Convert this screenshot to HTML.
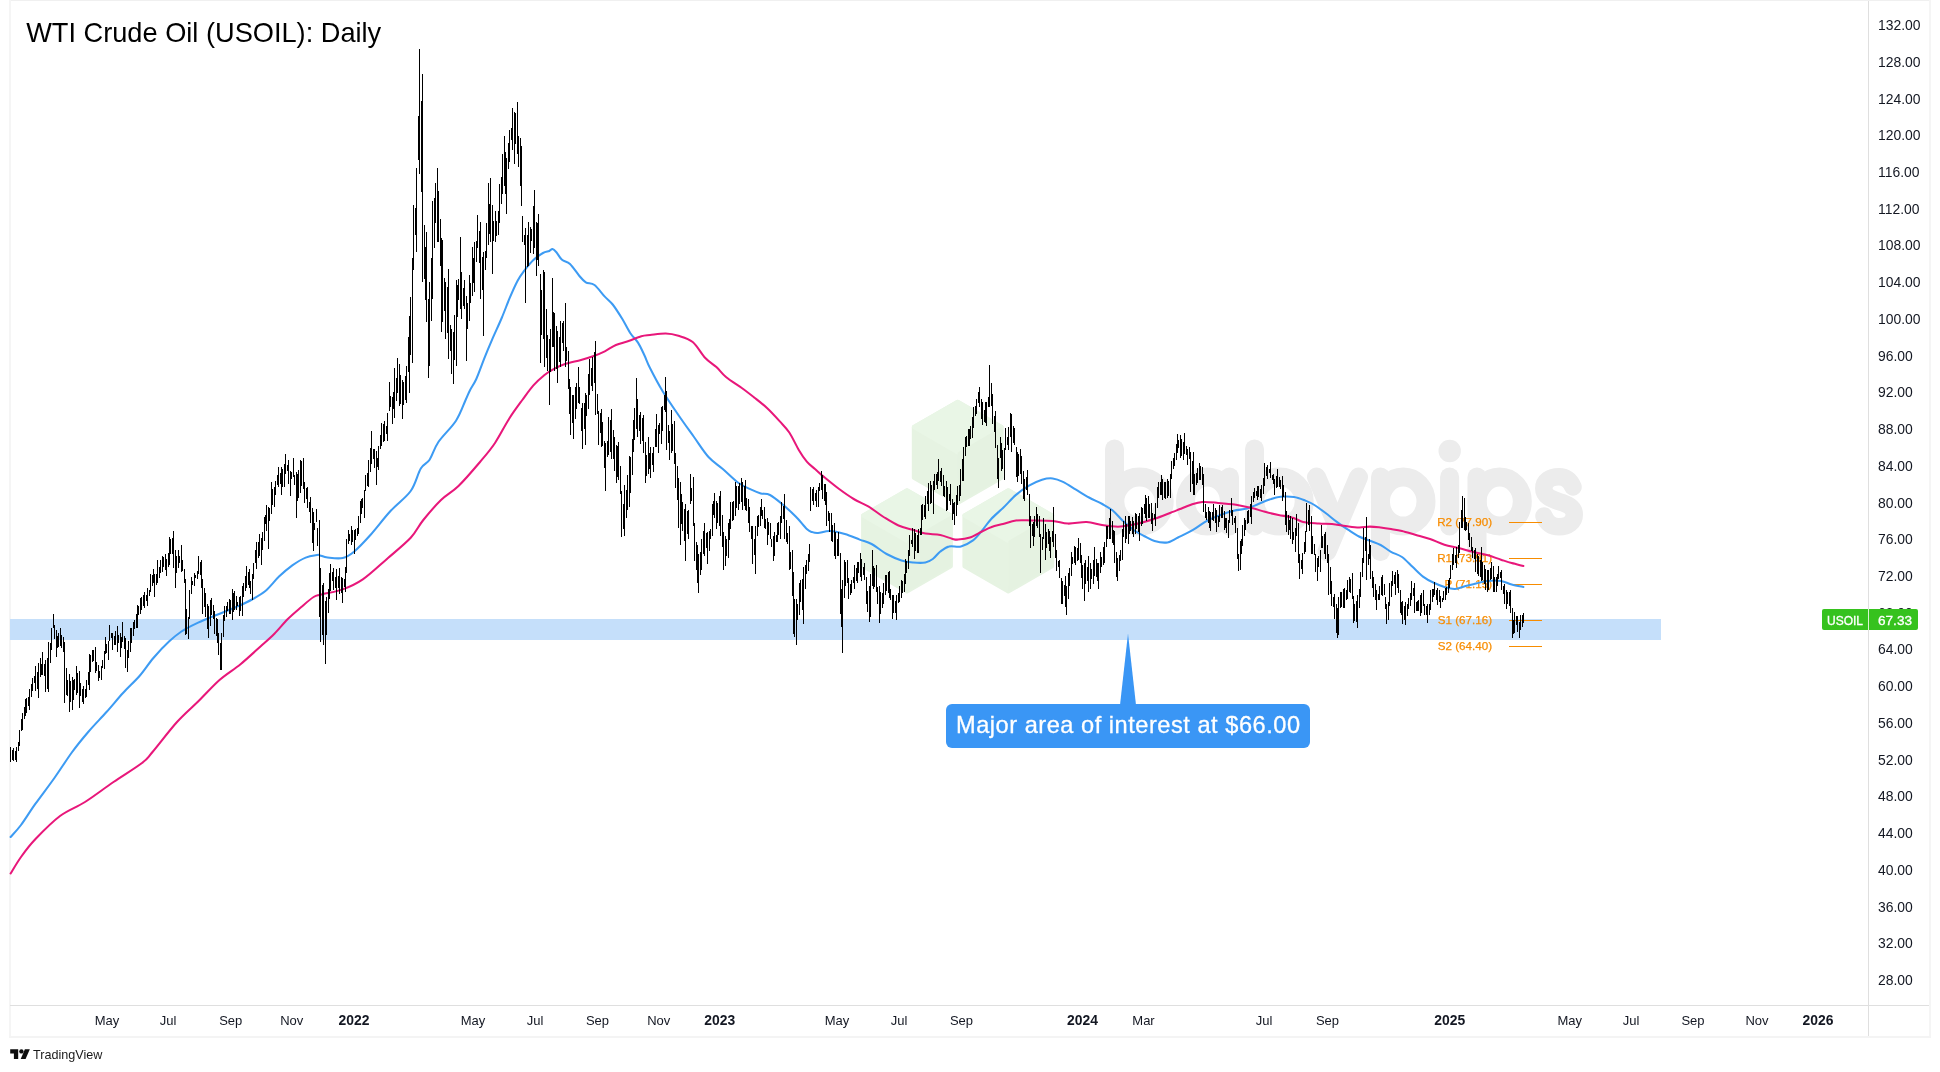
<!DOCTYPE html>
<html><head><meta charset="utf-8"><title>WTI Crude Oil (USOIL): Daily</title>
<style>
html,body{margin:0;padding:0;background:#fff;}
body{width:1940px;height:1072px;overflow:hidden;position:relative;font-family:"Liberation Sans",sans-serif;}
svg{position:absolute;left:0;top:0;display:block;will-change:transform}
text{font-family:"Liberation Sans",sans-serif}
</style></head><body>
<svg width="1940" height="1072" viewBox="0 0 1940 1072">

<g shape-rendering="crispEdges">
<rect x="9" y="0" width="1921" height="1" fill="#f0f0f0"/>
<rect x="9" y="0" width="2" height="1037" fill="#f5f5f5"/>
<rect x="1929" y="0" width="2" height="1037" fill="#f5f5f5"/>
<rect x="9" y="1036" width="1922" height="2" fill="#f4f4f4"/>
<rect x="1868" y="1" width="1" height="1035" fill="#dfdfdf"/>
<rect x="10" y="1005" width="1919" height="1" fill="#dfdfdf"/>
</g>
<g id="wm">
<polygon points="957.7,401.7 1001.6,427.0 1001.6,477.8 957.7,503.1 913.8,477.8 913.8,427.0" fill="#e6f3e2" stroke="#e6f3e2" stroke-width="4" stroke-linejoin="round"/><polygon points="957.7,401.7 1001.6,427.0 957.7,452.4 913.8,427.0" fill="#e9f6e6" stroke="#e9f6e6" stroke-width="4" stroke-linejoin="round"/><polygon points="1001.6,427.0 1001.6,477.8 957.7,503.1 957.7,452.4" fill="#e5f2e1"/>
<polygon points="907.0,490.2 950.9,515.5 950.9,566.2 907.0,591.6 863.1,566.2 863.1,515.5" fill="#e6f3e2" stroke="#e6f3e2" stroke-width="4" stroke-linejoin="round"/><polygon points="907.0,490.2 950.9,515.5 907.0,540.9 863.1,515.5" fill="#e9f6e6" stroke="#e9f6e6" stroke-width="4" stroke-linejoin="round"/><polygon points="950.9,515.5 950.9,566.2 907.0,591.6 907.0,540.9" fill="#e5f2e1"/>
<polygon points="1008.3,490.2 1052.2,515.5 1052.2,566.2 1008.3,591.6 964.4,566.2 964.4,515.5" fill="#e6f3e2" stroke="#e6f3e2" stroke-width="4" stroke-linejoin="round"/><polygon points="1008.3,490.2 1052.2,515.5 1008.3,540.9 964.4,515.5" fill="#e9f6e6" stroke="#e9f6e6" stroke-width="4" stroke-linejoin="round"/><polygon points="1052.2,515.5 1052.2,566.2 1008.3,591.6 1008.3,540.9" fill="#e5f2e1"/>
<g fill="none" stroke="#ececec" stroke-width="19" stroke-linecap="round" stroke-linejoin="round"><path d="M1114.5 449V526"/><ellipse cx="1139.5" cy="501.6" rx="24.7" ry="24.5"/><ellipse cx="1207.5" cy="501.6" rx="22" ry="24.5"/><path d="M1229.5 477V526"/><path d="M1254.5 449V526"/><ellipse cx="1279.5" cy="501.6" rx="24.7" ry="24.5"/><path d="M1316.5 477L1337.5 526.6"/><path d="M1358.5 477L1327 551.5"/><path d="M1380.5 477V551.5"/><ellipse cx="1403.2" cy="501.6" rx="22.8" ry="24.5"/><path d="M1449.6 477V526"/><path d="M1477 477V551.5"/><ellipse cx="1499.7" cy="501.6" rx="22.6" ry="24.5"/></g><g fill="none" stroke="#ececec" stroke-width="17.5" stroke-linecap="round" stroke-linejoin="round"><path d="M1573 487C1570 480 1565 476.8 1559 476.8C1550 476.8 1543.8 481 1543.8 488.5C1543.8 496 1551 499 1559 501.6C1567 504 1574.3 507 1574.3 514.5C1574.3 522 1568 526.8 1559 526.8C1552 526.8 1546.5 523 1544 516"/></g><circle cx="1449.7" cy="451" r="11.2" fill="#ececec"/>
</g>
<rect x="10" y="619" width="1651" height="21" fill="#c5dffa" shape-rendering="crispEdges"/>
<text x="1492" y="525.8" text-anchor="end" font-size="11.6" fill="#f78c00" stroke="#f78c00" stroke-width="0.25">R2 (77.90)</text>
<rect x="1509" y="522" width="33" height="1" fill="#f78c00" shape-rendering="crispEdges"/>
<text x="1492" y="562.4" text-anchor="end" font-size="11.6" fill="#f78c00" stroke="#f78c00" stroke-width="0.25">R1 (73.91)</text>
<rect x="1509" y="558" width="33" height="1" fill="#f78c00" shape-rendering="crispEdges"/>
<text x="1492" y="587.8" text-anchor="end" font-size="11.6" fill="#f78c00" stroke="#f78c00" stroke-width="0.25">P (71.15)</text>
<rect x="1509" y="584" width="33" height="1" fill="#f78c00" shape-rendering="crispEdges"/>
<text x="1492" y="624.4" text-anchor="end" font-size="11.6" fill="#f78c00" stroke="#f78c00" stroke-width="0.25">S1 (67.16)</text>
<rect x="1509" y="620" width="33" height="1" fill="#f78c00" shape-rendering="crispEdges"/>
<text x="1492" y="649.8" text-anchor="end" font-size="11.6" fill="#f78c00" stroke="#f78c00" stroke-width="0.25">S2 (64.40)</text>
<rect x="1509" y="646" width="33" height="1" fill="#f78c00" shape-rendering="crispEdges"/>
<path d="M10.6 837.0C12.3 835.0 16.9 830.5 21.0 825.0C25.1 819.5 29.9 811.5 35.5 803.7C41.1 795.9 48.4 786.5 54.4 778.0C60.4 769.5 66.2 760.2 71.8 752.5C77.4 744.8 82.4 738.8 88.2 732.0C94.0 725.2 100.9 718.3 106.7 711.8C112.5 705.3 117.5 699.0 123.0 693.0C128.5 687.0 134.4 681.8 139.5 676.0C144.6 670.2 148.5 663.7 153.4 658.0C158.3 652.3 164.3 646.0 169.0 641.6C173.7 637.2 176.9 634.5 181.4 631.5C185.9 628.5 190.6 626.2 196.0 623.6C201.4 621.0 207.3 618.8 214.0 616.0C220.7 613.2 230.0 609.8 236.3 607.0C242.6 604.2 247.2 602.2 252.0 599.5C256.9 596.8 260.9 594.8 265.4 591.0C269.9 587.2 274.5 580.9 279.0 576.6C283.5 572.3 287.9 568.6 292.3 565.4C296.8 562.2 301.6 559.3 305.7 557.6C309.8 555.9 314.6 555.4 317.0 555.0C319.4 554.6 318.2 555.0 320.0 555.4C321.8 555.8 323.8 557.1 327.6 557.5C331.4 557.9 338.3 559.0 342.7 558.0C347.1 557.0 349.4 555.5 354.0 551.7C358.6 547.9 364.3 541.8 370.4 535.0C376.5 528.2 383.8 518.3 390.5 511.0C397.2 503.7 405.6 498.1 410.7 491.0C415.8 483.9 417.6 473.7 420.8 468.5C424.0 463.3 426.7 464.1 429.6 459.7C432.5 455.3 434.0 448.5 438.4 442.0C442.8 435.5 451.5 427.7 456.0 420.7C460.5 413.7 463.3 405.1 465.6 400.0C467.9 394.9 468.2 393.7 470.0 390.2C471.8 386.7 473.9 384.3 476.3 379.0C478.7 373.7 481.7 365.0 484.3 358.4C486.9 351.8 489.3 346.1 492.2 339.4C495.1 332.7 498.8 324.9 501.7 318.0C504.6 311.1 507.0 304.4 509.6 298.2C512.2 292.0 515.2 285.2 517.6 280.7C520.0 276.2 521.3 274.6 523.9 271.2C526.5 267.8 530.2 263.0 533.4 260.0C536.6 257.0 540.4 254.5 543.0 253.0C545.6 251.5 547.7 251.7 549.3 251.0C550.9 250.3 551.3 248.8 552.5 249.0C553.7 249.2 554.8 250.4 556.4 252.2C558.0 254.0 559.7 257.8 562.0 259.8C564.3 261.8 567.1 261.3 570.0 264.0C572.9 266.7 576.8 272.9 579.4 276.0C582.0 279.1 583.3 280.8 585.8 282.3C588.3 283.8 591.3 282.6 594.5 285.0C597.7 287.4 601.8 293.4 604.8 296.6C607.8 299.9 609.8 300.8 612.7 304.5C615.6 308.2 619.3 314.1 622.2 318.8C625.1 323.6 627.6 329.0 630.2 333.0C632.8 337.0 635.6 338.9 638.0 342.6C640.4 346.3 642.4 351.1 644.4 355.3C646.4 359.5 647.0 362.1 650.0 368.0C653.0 373.9 657.8 383.2 662.5 391.0C667.2 398.8 673.1 407.3 678.4 415.0C683.6 422.7 689.0 430.0 694.0 437.0C699.0 444.0 703.7 451.7 708.5 457.0C713.3 462.3 717.8 464.7 722.8 469.0C727.8 473.3 733.9 479.6 738.6 483.0C743.4 486.4 747.6 487.9 751.3 489.6C755.0 491.3 757.7 492.5 760.8 493.4C763.9 494.3 766.3 493.1 770.0 495.0C773.7 496.9 778.7 501.2 783.0 504.8C787.3 508.4 791.7 512.5 795.7 516.5C799.7 520.5 804.1 526.4 806.8 529.0C809.5 531.6 810.1 531.3 812.0 532.0C813.9 532.7 815.0 533.2 818.0 533.0C821.0 532.8 825.5 530.8 830.0 531.0C834.5 531.2 839.8 532.6 844.8 534.0C849.8 535.4 855.2 537.9 859.7 539.6C864.2 541.3 867.1 541.6 871.6 544.0C876.1 546.4 881.6 551.3 886.6 554.0C891.6 556.7 897.0 559.0 901.5 560.4C906.0 561.8 909.4 562.1 913.4 562.5C917.4 562.9 922.2 563.1 925.4 562.5C928.6 561.9 930.3 560.8 932.8 559.0C935.3 557.2 937.6 553.6 940.3 551.5C943.0 549.4 945.5 547.2 949.0 546.4C952.5 545.5 957.0 547.4 961.0 546.4C965.0 545.4 969.5 543.0 973.0 540.4C976.5 537.8 979.0 534.1 982.0 530.6C985.0 527.1 987.5 523.0 991.0 519.2C994.5 515.4 998.8 512.0 1003.0 508.0C1007.2 503.9 1011.7 498.6 1016.0 494.9C1020.3 491.2 1024.7 488.2 1029.0 485.7C1033.3 483.2 1038.0 480.9 1042.0 479.7C1046.0 478.5 1049.2 478.0 1052.7 478.4C1056.2 478.8 1059.1 479.9 1063.0 481.8C1066.9 483.7 1071.7 487.1 1076.0 489.7C1080.3 492.3 1084.6 495.1 1089.0 497.5C1093.4 499.9 1098.3 501.8 1102.3 504.0C1106.2 506.2 1109.2 507.7 1112.7 510.5C1116.2 513.3 1119.5 517.8 1123.0 521.0C1126.5 524.2 1130.1 527.5 1133.6 530.0C1137.1 532.5 1140.5 534.2 1144.0 536.0C1147.5 537.8 1150.6 539.9 1154.5 541.0C1158.4 542.1 1163.6 543.0 1167.5 542.4C1171.4 541.8 1173.7 539.6 1178.0 537.5C1182.3 535.4 1188.6 532.5 1193.4 529.7C1198.2 526.9 1202.4 523.2 1206.9 520.8C1211.4 518.3 1215.8 516.7 1220.3 515.0C1224.8 513.3 1229.2 511.8 1233.7 510.7C1238.2 509.6 1242.9 509.6 1247.0 508.5C1251.1 507.4 1254.6 505.5 1258.4 504.0C1262.2 502.5 1265.9 500.7 1269.6 499.5C1273.3 498.3 1276.7 497.2 1280.8 496.8C1284.9 496.4 1289.9 496.4 1294.0 497.0C1298.1 497.6 1302.0 499.3 1305.4 500.6C1308.8 501.9 1311.0 502.9 1314.4 505.0C1317.8 507.1 1321.9 510.2 1325.6 513.0C1329.3 515.8 1333.1 519.1 1336.8 521.9C1340.5 524.7 1344.3 527.3 1348.0 529.7C1351.7 532.1 1355.3 534.6 1359.0 536.5C1362.7 538.4 1366.4 539.4 1370.0 540.8C1373.6 542.2 1377.1 543.2 1380.6 545.0C1384.1 546.8 1387.4 549.8 1391.0 551.8C1394.6 553.8 1398.4 554.5 1402.0 557.0C1405.6 559.5 1409.0 563.5 1412.5 566.8C1416.0 570.1 1419.5 573.9 1423.0 576.6C1426.5 579.3 1430.2 581.1 1433.8 582.8C1437.4 584.5 1440.9 586.0 1444.4 587.0C1447.9 588.0 1451.5 589.2 1455.0 589.0C1458.5 588.8 1462.2 586.9 1465.7 586.0C1469.2 585.1 1472.5 584.4 1476.0 583.6C1479.5 582.8 1482.8 581.4 1487.0 581.0C1491.2 580.6 1496.9 580.4 1501.0 581.0C1505.1 581.6 1508.0 583.5 1511.7 584.5C1515.4 585.5 1521.5 586.6 1523.4 587.0" fill="none" stroke="#3d9bf3" stroke-width="2.05" stroke-linejoin="round" stroke-linecap="round"/>
<path d="M10.6 873.5C12.3 870.8 16.9 862.8 21.0 857.0C25.1 851.2 29.0 845.8 35.5 839.0C42.0 832.2 51.8 822.2 60.0 816.0C68.2 809.8 76.1 807.7 85.0 802.0C93.9 796.3 104.0 788.5 113.5 782.0C123.0 775.5 135.5 768.0 142.0 763.0C148.5 758.0 146.7 758.8 152.5 752.0C158.3 745.2 169.3 730.5 177.0 722.0C184.7 713.5 191.5 708.0 198.6 701.0C205.7 694.0 212.5 686.2 219.5 680.0C226.5 673.8 233.9 669.7 240.8 664.0C247.7 658.3 255.4 651.0 261.0 646.0C266.6 641.0 269.9 638.2 274.4 633.7C278.9 629.2 283.3 623.5 287.8 619.0C292.3 614.5 297.0 610.7 301.3 607.0C305.6 603.3 310.2 599.1 313.6 597.0C317.0 594.9 316.5 595.8 321.4 594.5C326.2 593.2 335.8 591.9 342.7 589.4C349.6 586.9 355.2 584.6 362.8 579.4C370.4 574.2 380.0 564.9 388.0 558.0C396.0 551.1 404.8 544.1 410.7 537.8C416.6 531.5 418.2 526.3 423.3 520.0C428.4 513.7 435.1 505.7 441.0 500.0C446.9 494.3 452.0 492.3 458.5 486.0C465.0 479.7 473.9 469.2 480.0 462.0C486.1 454.8 490.2 450.2 495.0 443.0C499.8 435.8 504.4 426.2 509.0 419.0C513.5 411.8 518.2 405.6 522.3 400.0C526.4 394.4 529.7 389.6 533.4 385.4C537.1 381.2 541.1 377.8 544.5 375.0C547.9 372.2 550.6 370.6 554.0 368.8C557.4 367.0 560.5 365.5 565.0 364.0C569.5 362.5 576.2 361.3 581.0 360.0C585.8 358.7 589.7 357.4 593.7 356.0C597.7 354.6 601.1 353.1 604.8 351.3C608.5 349.5 611.9 346.7 615.9 345.0C619.9 343.3 624.4 342.5 628.6 341.0C632.8 339.5 637.7 337.2 641.3 336.2C644.9 335.2 645.9 335.4 650.0 335.0C654.1 334.6 661.0 333.5 665.7 333.6C670.4 333.7 673.9 334.4 678.4 335.8C682.9 337.2 688.2 338.3 692.7 342.0C697.2 345.7 701.3 353.8 705.3 358.0C709.2 362.2 712.9 363.8 716.4 367.0C719.9 370.2 721.8 373.5 726.0 377.0C730.2 380.5 737.0 384.6 741.8 388.0C746.5 391.4 750.3 394.4 754.5 397.7C758.7 401.0 762.8 404.1 767.0 408.0C771.2 411.9 776.1 417.3 779.8 421.4C783.5 425.5 786.1 427.7 789.3 432.5C792.5 437.3 795.9 445.1 798.8 450.0C801.7 454.9 804.1 458.5 806.8 461.7C809.5 464.9 812.1 466.5 815.0 469.0C817.9 471.5 819.9 473.6 823.9 476.9C827.9 480.2 833.8 485.1 838.8 488.8C843.8 492.5 848.7 496.0 853.7 499.0C858.7 502.0 863.7 503.7 868.7 506.7C873.7 509.7 878.6 513.9 883.6 517.0C888.6 520.1 893.5 523.3 898.5 525.5C903.5 527.7 908.9 528.6 913.4 530.0C917.9 531.4 920.9 532.8 925.4 533.6C929.9 534.4 935.9 534.1 940.3 535.0C944.7 535.9 949.0 537.9 952.0 538.7C955.0 539.5 955.0 539.8 958.0 539.6C961.0 539.4 966.0 538.9 970.0 537.5C974.0 536.1 978.5 533.2 982.0 531.5C985.5 529.8 987.5 528.5 991.0 527.3C994.5 526.0 998.8 525.1 1003.0 524.0C1007.2 522.9 1011.2 521.1 1016.0 520.5C1020.8 519.9 1025.7 520.4 1031.8 520.5C1037.9 520.6 1046.7 520.5 1052.7 521.0C1058.7 521.5 1062.3 523.4 1068.0 523.6C1073.7 523.8 1080.9 521.8 1086.6 522.0C1092.3 522.2 1096.8 524.2 1102.0 525.0C1107.2 525.8 1113.2 526.7 1118.0 526.7C1122.8 526.7 1126.7 525.8 1131.0 525.0C1135.3 524.2 1139.7 523.2 1144.0 522.0C1148.3 520.8 1152.2 519.7 1157.0 518.0C1161.8 516.3 1169.0 513.4 1172.8 511.9C1176.6 510.4 1177.0 510.2 1180.0 509.0C1183.0 507.8 1187.3 505.9 1191.0 504.7C1194.7 503.5 1197.9 502.3 1202.4 502.0C1206.9 501.7 1212.4 502.4 1218.0 502.9C1223.6 503.3 1230.4 503.8 1236.0 504.7C1241.6 505.6 1246.9 506.8 1251.7 508.0C1256.5 509.2 1260.5 510.6 1265.0 511.8C1269.5 513.0 1274.0 514.1 1278.5 515.0C1283.0 515.9 1287.9 516.2 1292.0 517.4C1296.1 518.5 1298.5 520.9 1303.0 521.9C1307.5 522.9 1314.1 523.1 1318.9 523.5C1323.7 523.9 1327.5 523.6 1332.0 524.0C1336.5 524.4 1341.2 525.4 1345.7 526.0C1350.2 526.6 1355.0 527.4 1359.0 527.5C1363.0 527.6 1366.4 526.6 1370.0 526.6C1373.6 526.6 1377.1 527.1 1380.6 527.5C1384.1 527.9 1387.4 528.4 1391.0 529.0C1394.6 529.6 1397.8 530.0 1402.0 531.0C1406.2 532.0 1411.3 533.7 1416.0 535.0C1420.7 536.3 1425.3 537.4 1430.0 539.0C1434.7 540.6 1439.6 543.2 1444.4 544.7C1449.2 546.2 1453.9 546.8 1458.6 548.0C1463.3 549.2 1468.1 550.6 1472.8 551.8C1477.5 553.0 1482.3 553.7 1487.0 555.0C1491.7 556.3 1496.9 558.4 1501.0 559.7C1505.1 561.0 1508.0 562.0 1511.7 563.0C1515.4 564.0 1521.5 565.5 1523.4 566.0" fill="none" stroke="#e8177a" stroke-width="2.05" stroke-linejoin="round" stroke-linecap="round"/>
<path d="M10 747h1V762h-1zM12 750h1V760h-1zM13 748h1V761h-1zM15 751h1V760h-1zM16 747h1V762h-1zM18 742h1V751h-1zM19 730h1V746h-1zM21 719h1V731h-1zM22 713h1V730h-1zM24 707h1V719h-1zM25 699h1V716h-1zM26 698h1V713h-1zM28 697h1V706h-1zM29 689h1V710h-1zM31 684h1V697h-1zM32 678h1V691h-1zM34 676h1V683h-1zM35 666h1V691h-1zM37 672h1V689h-1zM38 663h1V698h-1zM40 658h1V677h-1zM41 664h1V675h-1zM42 652h1V675h-1zM44 664h1V676h-1zM45 660h1V692h-1zM47 658h1V689h-1zM48 642h1V692h-1zM50 643h1V663h-1zM51 628h1V650h-1zM53 614h1V628h-1zM54 625h1V639h-1zM56 630h1V657h-1zM57 636h1V648h-1zM58 633h1V647h-1zM60 628h1V646h-1zM61 635h1V648h-1zM63 637h1V652h-1zM64 642h1V703h-1zM66 668h1V695h-1zM67 680h1V696h-1zM69 674h1V712h-1zM70 681h1V702h-1zM72 677h1V710h-1zM73 680h1V700h-1zM74 679h1V690h-1zM76 666h1V695h-1zM77 673h1V693h-1zM79 671h1V708h-1zM80 683h1V696h-1zM82 689h1V702h-1zM83 686h1V704h-1zM85 689h1V698h-1zM86 680h1V697h-1zM88 672h1V685h-1zM89 654h1V690h-1zM90 655h1V672h-1zM92 650h1V662h-1zM93 650h1V661h-1zM95 647h1V673h-1zM96 662h1V671h-1zM98 665h1V681h-1zM99 671h1V678h-1zM101 666h1V680h-1zM102 660h1V668h-1zM104 651h1V669h-1zM105 637h1V654h-1zM106 644h1V653h-1zM108 641h1V660h-1zM109 625h1V641h-1zM111 633h1V638h-1zM112 633h1V650h-1zM114 636h1V645h-1zM115 631h1V645h-1zM117 626h1V652h-1zM118 635h1V643h-1zM120 633h1V657h-1zM121 637h1V648h-1zM122 622h1V642h-1zM124 636h1V649h-1zM125 638h1V668h-1zM127 650h1V672h-1zM128 641h1V658h-1zM130 628h1V652h-1zM131 628h1V643h-1zM133 622h1V636h-1zM134 620h1V629h-1zM136 614h1V628h-1zM137 605h1V628h-1zM138 606h1V615h-1zM140 598h1V614h-1zM141 597h1V610h-1zM143 595h1V606h-1zM144 592h1V608h-1zM146 595h1V601h-1zM147 588h1V606h-1zM149 590h1V596h-1zM150 574h1V592h-1zM152 575h1V586h-1zM153 569h1V583h-1zM154 574h1V597h-1zM156 574h1V585h-1zM157 560h1V583h-1zM159 567h1V578h-1zM160 560h1V573h-1zM162 556h1V572h-1zM163 557h1V567h-1zM165 554h1V570h-1zM166 559h1V576h-1zM168 553h1V567h-1zM169 537h1V565h-1zM170 539h1V554h-1zM172 538h1V554h-1zM173 531h1V568h-1zM175 550h1V588h-1zM176 556h1V573h-1zM178 550h1V568h-1zM179 556h1V563h-1zM181 545h1V572h-1zM182 560h1V571h-1zM184 569h1V583h-1zM185 579h1V635h-1zM186 609h1V634h-1zM188 617h1V639h-1zM189 590h1V619h-1zM191 577h1V594h-1zM192 581h1V585h-1zM194 573h1V586h-1zM195 575h1V578h-1zM197 571h1V579h-1zM198 556h1V574h-1zM200 562h1V575h-1zM201 560h1V588h-1zM202 579h1V614h-1zM204 588h1V607h-1zM205 593h1V617h-1zM207 604h1V629h-1zM208 606h1V638h-1zM210 600h1V626h-1zM211 598h1V615h-1zM213 605h1V619h-1zM214 611h1V634h-1zM216 618h1V636h-1zM217 619h1V643h-1zM218 633h1V655h-1zM220 643h1V670h-1zM221 633h1V670h-1zM223 615h1V637h-1zM224 606h1V621h-1zM226 606h1V617h-1zM227 602h1V611h-1zM229 599h1V614h-1zM230 600h1V614h-1zM232 589h1V620h-1zM233 593h1V612h-1zM234 591h1V610h-1zM236 596h1V610h-1zM237 602h1V606h-1zM239 597h1V616h-1zM240 596h1V611h-1zM242 586h1V616h-1zM243 583h1V597h-1zM245 576h1V591h-1zM246 566h1V588h-1zM248 572h1V585h-1zM249 569h1V588h-1zM250 581h1V594h-1zM252 574h1V600h-1zM253 563h1V579h-1zM255 550h1V563h-1zM256 542h1V569h-1zM258 542h1V558h-1zM259 534h1V556h-1zM261 538h1V565h-1zM262 532h1V550h-1zM264 517h1V541h-1zM265 515h1V524h-1zM266 505h1V531h-1zM268 507h1V549h-1zM269 508h1V521h-1zM271 482h1V514h-1zM272 489h1V505h-1zM274 487h1V507h-1zM275 481h1V495h-1zM277 475h1V485h-1zM278 467h1V487h-1zM280 473h1V484h-1zM281 467h1V495h-1zM282 469h1V487h-1zM284 464h1V487h-1zM285 454h1V474h-1zM287 465h1V471h-1zM288 460h1V484h-1zM290 471h1V496h-1zM291 472h1V479h-1zM293 458h1V477h-1zM294 475h1V485h-1zM296 472h1V518h-1zM297 474h1V501h-1zM298 470h1V498h-1zM300 460h1V493h-1zM301 461h1V486h-1zM303 458h1V489h-1zM304 482h1V503h-1zM306 488h1V499h-1zM307 487h1V508h-1zM309 502h1V512h-1zM310 497h1V523h-1zM312 508h1V543h-1zM313 512h1V551h-1zM314 523h1V530h-1zM316 509h1V522h-1zM317 528h1V546h-1zM319 520h1V617h-1zM320 568h1V642h-1zM322 585h1V635h-1zM323 583h1V645h-1zM325 601h1V664h-1zM326 597h1V635h-1zM328 589h1V613h-1zM329 573h1V599h-1zM330 564h1V591h-1zM332 572h1V581h-1zM333 568h1V590h-1zM335 577h1V588h-1zM336 569h1V600h-1zM338 576h1V588h-1zM339 568h1V594h-1zM341 577h1V593h-1zM342 578h1V603h-1zM344 579h1V587h-1zM345 567h1V592h-1zM346 539h1V573h-1zM348 530h1V544h-1zM349 534h1V541h-1zM351 526h1V545h-1zM352 530h1V542h-1zM354 530h1V554h-1zM355 529h1V540h-1zM357 528h1V536h-1zM358 516h1V534h-1zM360 501h1V523h-1zM361 499h1V514h-1zM362 498h1V508h-1zM364 490h1V518h-1zM365 475h1V491h-1zM367 473h1V486h-1zM368 460h1V487h-1zM370 448h1V472h-1zM371 431h1V464h-1zM373 449h1V459h-1zM374 449h1V468h-1zM376 451h1V485h-1zM377 458h1V467h-1zM378 446h1V470h-1zM380 435h1V449h-1zM381 423h1V446h-1zM383 424h1V442h-1zM384 421h1V441h-1zM386 426h1V434h-1zM387 413h1V441h-1zM389 382h1V411h-1zM390 396h1V407h-1zM392 397h1V424h-1zM393 392h1V409h-1zM394 368h1V418h-1zM396 378h1V401h-1zM397 358h1V393h-1zM399 364h1V406h-1zM400 375h1V404h-1zM402 380h1V419h-1zM403 382h1V405h-1zM405 376h1V400h-1zM406 366h1V403h-1zM408 337h1V372h-1zM409 316h1V393h-1zM410 297h1V355h-1zM412 258h1V363h-1zM413 205h1V270h-1zM415 208h1V235h-1zM416 168h1V252h-1zM418 116h1V160h-1zM419 49h1V174h-1zM421 101h1V192h-1zM422 74h1V282h-1zM424 225h1V279h-1zM425 247h1V300h-1zM426 232h1V322h-1zM428 299h1V378h-1zM429 282h1V366h-1zM431 258h1V321h-1zM432 201h1V299h-1zM434 198h1V248h-1zM435 183h1V223h-1zM437 168h1V242h-1zM438 191h1V242h-1zM440 219h1V266h-1zM441 238h1V332h-1zM442 240h1V322h-1zM444 278h1V311h-1zM445 282h1V339h-1zM447 287h1V333h-1zM448 269h1V359h-1zM450 325h1V351h-1zM451 329h1V374h-1zM453 332h1V384h-1zM454 315h1V360h-1zM456 280h1V366h-1zM457 285h1V317h-1zM458 279h1V300h-1zM460 237h1V309h-1zM461 272h1V319h-1zM463 288h1V306h-1zM464 280h1V309h-1zM466 296h1V361h-1zM467 303h1V329h-1zM469 275h1V321h-1zM470 283h1V303h-1zM472 247h1V296h-1zM473 258h1V283h-1zM474 242h1V292h-1zM476 241h1V262h-1zM477 215h1V248h-1zM479 231h1V263h-1zM480 222h1V299h-1zM482 257h1V290h-1zM483 252h1V336h-1zM485 251h1V270h-1zM486 223h1V258h-1zM488 183h1V245h-1zM489 204h1V234h-1zM490 178h1V242h-1zM492 205h1V274h-1zM493 221h1V241h-1zM495 211h1V242h-1zM496 221h1V236h-1zM498 211h1V235h-1zM499 184h1V223h-1zM501 177h1V204h-1zM502 154h1V194h-1zM504 136h1V186h-1zM505 152h1V194h-1zM506 158h1V214h-1zM508 143h1V169h-1zM509 130h1V162h-1zM511 128h1V140h-1zM512 108h1V150h-1zM514 112h1V164h-1zM515 113h1V144h-1zM517 102h1V154h-1zM518 136h1V167h-1zM520 138h1V186h-1zM521 146h1V206h-1zM522 216h1V242h-1zM524 235h1V245h-1zM525 228h1V303h-1zM527 235h1V267h-1zM528 222h1V266h-1zM530 227h1V253h-1zM531 229h1V241h-1zM533 206h1V254h-1zM534 190h1V248h-1zM536 222h1V276h-1zM537 223h1V260h-1zM538 214h1V266h-1zM540 274h1V363h-1zM541 290h1V335h-1zM543 270h1V339h-1zM544 272h1V367h-1zM546 309h1V358h-1zM547 335h1V371h-1zM549 339h1V405h-1zM550 329h1V372h-1zM552 278h1V347h-1zM553 312h1V347h-1zM554 313h1V371h-1zM556 326h1V369h-1zM557 331h1V383h-1zM559 337h1V362h-1zM560 321h1V367h-1zM562 323h1V343h-1zM563 321h1V351h-1zM565 303h1V367h-1zM566 347h1V361h-1zM568 351h1V389h-1zM569 379h1V414h-1zM570 387h1V435h-1zM572 395h1V423h-1zM573 395h1V439h-1zM575 387h1V419h-1zM576 383h1V409h-1zM578 367h1V403h-1zM579 387h1V404h-1zM581 408h1V431h-1zM582 403h1V449h-1zM584 403h1V429h-1zM585 393h1V445h-1zM586 395h1V416h-1zM588 374h1V409h-1zM589 359h1V395h-1zM591 368h1V386h-1zM592 357h1V391h-1zM594 352h1V383h-1zM595 341h1V415h-1zM597 394h1V414h-1zM598 411h1V445h-1zM600 413h1V433h-1zM601 409h1V447h-1zM602 422h1V446h-1zM604 441h1V468h-1zM605 443h1V491h-1zM607 441h1V457h-1zM608 417h1V455h-1zM610 420h1V452h-1zM611 409h1V459h-1zM613 430h1V459h-1zM614 437h1V471h-1zM616 445h1V483h-1zM617 446h1V477h-1zM618 442h1V480h-1zM620 466h1V494h-1zM621 491h1V537h-1zM623 504h1V529h-1zM624 485h1V536h-1zM626 490h1V518h-1zM627 475h1V510h-1zM629 456h1V507h-1zM630 457h1V493h-1zM632 439h1V475h-1zM633 420h1V452h-1zM634 408h1V440h-1zM636 378h1V429h-1zM637 399h1V437h-1zM639 415h1V431h-1zM640 412h1V444h-1zM642 418h1V441h-1zM643 415h1V453h-1zM645 442h1V483h-1zM646 455h1V476h-1zM648 437h1V474h-1zM649 453h1V469h-1zM650 447h1V478h-1zM652 453h1V465h-1zM653 447h1V472h-1zM655 429h1V447h-1zM656 414h1V447h-1zM658 425h1V453h-1zM659 423h1V434h-1zM661 407h1V444h-1zM662 406h1V431h-1zM664 395h1V410h-1zM665 377h1V412h-1zM666 391h1V450h-1zM668 425h1V443h-1zM669 431h1V460h-1zM671 410h1V453h-1zM672 424h1V451h-1zM674 421h1V464h-1zM675 453h1V488h-1zM677 466h1V500h-1zM678 478h1V528h-1zM680 482h1V545h-1zM681 494h1V524h-1zM682 502h1V531h-1zM684 509h1V541h-1zM685 504h1V561h-1zM687 511h1V534h-1zM688 510h1V539h-1zM690 474h1V504h-1zM691 488h1V501h-1zM693 477h1V526h-1zM694 523h1V561h-1zM696 542h1V570h-1zM697 545h1V583h-1zM698 554h1V593h-1zM700 552h1V575h-1zM701 539h1V570h-1zM703 531h1V554h-1zM704 523h1V556h-1zM706 533h1V548h-1zM707 532h1V564h-1zM709 531h1V551h-1zM710 529h1V539h-1zM712 504h1V536h-1zM713 501h1V515h-1zM714 493h1V518h-1zM716 501h1V529h-1zM717 503h1V523h-1zM719 496h1V526h-1zM720 491h1V536h-1zM722 515h1V547h-1zM723 532h1V570h-1zM725 536h1V566h-1zM726 539h1V556h-1zM728 523h1V558h-1zM729 519h1V540h-1zM730 502h1V529h-1zM732 502h1V521h-1zM733 501h1V520h-1zM735 482h1V516h-1zM736 486h1V508h-1zM738 486h1V510h-1zM739 483h1V504h-1zM741 478h1V502h-1zM742 482h1V510h-1zM744 486h1V506h-1zM745 480h1V510h-1zM746 498h1V511h-1zM748 499h1V523h-1zM749 507h1V532h-1zM751 526h1V539h-1zM752 526h1V564h-1zM754 539h1V555h-1zM755 526h1V574h-1zM757 516h1V536h-1zM758 515h1V527h-1zM760 507h1V526h-1zM761 499h1V516h-1zM762 510h1V519h-1zM764 507h1V528h-1zM765 519h1V529h-1zM767 518h1V545h-1zM768 522h1V535h-1zM770 523h1V539h-1zM771 539h1V547h-1zM773 536h1V561h-1zM774 532h1V556h-1zM776 535h1V542h-1zM777 523h1V542h-1zM778 522h1V535h-1zM780 516h1V539h-1zM781 502h1V523h-1zM783 506h1V519h-1zM784 494h1V539h-1zM786 520h1V542h-1zM787 533h1V544h-1zM789 526h1V570h-1zM790 552h1V569h-1zM792 550h1V596h-1zM793 572h1V634h-1zM794 599h1V637h-1zM796 599h1V645h-1zM797 604h1V620h-1zM799 583h1V615h-1zM800 580h1V602h-1zM802 579h1V610h-1zM803 567h1V624h-1zM805 565h1V589h-1zM806 560h1V574h-1zM808 554h1V571h-1zM809 544h1V562h-1zM810 487h1V511h-1zM812 489h1V501h-1zM813 487h1V505h-1zM815 493h1V501h-1zM816 490h1V507h-1zM818 487h1V507h-1zM819 483h1V491h-1zM821 471h1V490h-1zM822 475h1V499h-1zM824 484h1V501h-1zM825 484h1V505h-1zM826 492h1V526h-1zM828 511h1V521h-1zM829 513h1V532h-1zM831 513h1V541h-1zM832 525h1V542h-1zM834 523h1V556h-1zM835 532h1V559h-1zM837 539h1V556h-1zM838 532h1V556h-1zM840 553h1V614h-1zM841 589h1V627h-1zM842 580h1V653h-1zM844 560h1V598h-1zM845 562h1V586h-1zM847 560h1V583h-1zM848 578h1V599h-1zM850 584h1V595h-1zM851 580h1V593h-1zM853 577h1V583h-1zM854 565h1V589h-1zM856 568h1V581h-1zM857 562h1V583h-1zM858 562h1V573h-1zM860 553h1V577h-1zM861 559h1V581h-1zM863 567h1V575h-1zM864 563h1V580h-1zM866 577h1V604h-1zM867 591h1V612h-1zM869 586h1V622h-1zM870 574h1V617h-1zM872 550h1V586h-1zM873 566h1V589h-1zM874 568h1V587h-1zM876 565h1V592h-1zM877 587h1V604h-1zM879 586h1V623h-1zM880 592h1V614h-1zM882 593h1V608h-1zM883 583h1V604h-1zM885 575h1V595h-1zM886 575h1V591h-1zM888 572h1V593h-1zM889 571h1V598h-1zM890 589h1V600h-1zM892 595h1V619h-1zM893 595h1V613h-1zM895 601h1V613h-1zM896 595h1V620h-1zM898 593h1V603h-1zM899 586h1V602h-1zM901 580h1V598h-1zM902 581h1V593h-1zM904 574h1V592h-1zM905 559h1V584h-1zM906 561h1V573h-1zM908 550h1V569h-1zM909 535h1V556h-1zM911 540h1V544h-1zM912 528h1V547h-1zM914 529h1V559h-1zM915 533h1V551h-1zM917 535h1V553h-1zM918 529h1V553h-1zM920 528h1V535h-1zM921 505h1V535h-1zM922 504h1V520h-1zM924 505h1V517h-1zM925 496h1V519h-1zM927 491h1V504h-1zM928 483h1V511h-1zM930 481h1V504h-1zM931 485h1V503h-1zM933 481h1V514h-1zM934 474h1V490h-1zM936 474h1V485h-1zM937 472h1V489h-1zM938 459h1V481h-1zM940 471h1V482h-1zM941 468h1V486h-1zM943 475h1V496h-1zM944 486h1V497h-1zM946 481h1V511h-1zM947 487h1V510h-1zM949 494h1V501h-1zM950 484h1V505h-1zM952 499h1V520h-1zM953 503h1V514h-1zM954 502h1V525h-1zM956 495h1V516h-1zM957 486h1V505h-1zM959 485h1V501h-1zM960 469h1V496h-1zM962 459h1V481h-1zM963 447h1V481h-1zM965 437h1V456h-1zM966 436h1V447h-1zM968 429h1V446h-1zM969 429h1V446h-1zM970 426h1V439h-1zM972 417h1V438h-1zM973 407h1V428h-1zM975 406h1V416h-1zM976 399h1V414h-1zM978 392h1V403h-1zM979 387h1V407h-1zM981 399h1V419h-1zM982 402h1V425h-1zM984 410h1V422h-1zM985 402h1V423h-1zM986 402h1V426h-1zM988 397h1V407h-1zM989 365h1V407h-1zM991 383h1V406h-1zM992 394h1V424h-1zM994 416h1V432h-1zM995 411h1V448h-1zM997 445h1V479h-1zM998 458h1V488h-1zM1000 437h1V458h-1zM1001 443h1V471h-1zM1002 450h1V469h-1zM1004 448h1V480h-1zM1005 428h1V450h-1zM1007 437h1V445h-1zM1008 427h1V450h-1zM1010 413h1V437h-1zM1011 414h1V452h-1zM1013 426h1V443h-1zM1014 428h1V445h-1zM1016 447h1V477h-1zM1017 452h1V482h-1zM1018 454h1V476h-1zM1020 449h1V474h-1zM1021 456h1V484h-1zM1023 471h1V499h-1zM1024 479h1V501h-1zM1026 477h1V490h-1zM1027 470h1V495h-1zM1029 494h1V526h-1zM1030 516h1V548h-1zM1032 524h1V536h-1zM1033 522h1V546h-1zM1034 516h1V537h-1zM1036 507h1V526h-1zM1037 514h1V528h-1zM1039 516h1V537h-1zM1040 534h1V573h-1zM1042 537h1V550h-1zM1043 518h1V539h-1zM1045 524h1V560h-1zM1046 532h1V548h-1zM1048 529h1V544h-1zM1049 531h1V551h-1zM1050 537h1V558h-1zM1052 531h1V542h-1zM1053 507h1V547h-1zM1055 534h1V558h-1zM1056 550h1V571h-1zM1058 561h1V567h-1zM1059 560h1V578h-1zM1061 578h1V604h-1zM1062 581h1V604h-1zM1064 585h1V596h-1zM1065 576h1V607h-1zM1066 586h1V615h-1zM1068 573h1V599h-1zM1069 568h1V586h-1zM1071 552h1V576h-1zM1072 557h1V564h-1zM1074 546h1V563h-1zM1075 547h1V565h-1zM1077 548h1V561h-1zM1078 538h1V560h-1zM1080 543h1V563h-1zM1081 555h1V578h-1zM1082 565h1V589h-1zM1084 563h1V601h-1zM1085 560h1V584h-1zM1087 567h1V581h-1zM1088 556h1V592h-1zM1090 563h1V589h-1zM1091 569h1V579h-1zM1093 560h1V584h-1zM1094 547h1V576h-1zM1096 559h1V577h-1zM1097 563h1V581h-1zM1098 563h1V589h-1zM1100 552h1V573h-1zM1101 557h1V567h-1zM1103 547h1V565h-1zM1104 542h1V563h-1zM1106 526h1V547h-1zM1107 526h1V539h-1zM1109 518h1V539h-1zM1110 509h1V539h-1zM1112 521h1V543h-1zM1113 530h1V545h-1zM1114 531h1V563h-1zM1116 552h1V577h-1zM1117 558h1V581h-1zM1119 555h1V571h-1zM1120 550h1V561h-1zM1122 529h1V560h-1zM1123 521h1V537h-1zM1125 516h1V543h-1zM1126 524h1V539h-1zM1128 516h1V544h-1zM1129 516h1V534h-1zM1130 521h1V531h-1zM1132 517h1V534h-1zM1133 521h1V537h-1zM1135 513h1V534h-1zM1136 514h1V529h-1zM1138 516h1V532h-1zM1139 513h1V541h-1zM1141 507h1V526h-1zM1142 508h1V524h-1zM1144 504h1V514h-1zM1145 495h1V518h-1zM1146 498h1V521h-1zM1148 496h1V518h-1zM1149 504h1V518h-1zM1151 503h1V524h-1zM1152 513h1V531h-1zM1154 514h1V519h-1zM1155 503h1V526h-1zM1157 487h1V508h-1zM1158 482h1V498h-1zM1160 482h1V495h-1zM1161 475h1V495h-1zM1162 479h1V500h-1zM1164 482h1V498h-1zM1165 482h1V499h-1zM1167 479h1V498h-1zM1168 481h1V496h-1zM1170 474h1V498h-1zM1171 461h1V479h-1zM1173 458h1V469h-1zM1174 453h1V466h-1zM1176 444h1V460h-1zM1177 434h1V453h-1zM1178 440h1V448h-1zM1180 435h1V458h-1zM1181 439h1V456h-1zM1183 442h1V460h-1zM1184 433h1V454h-1zM1186 446h1V455h-1zM1187 449h1V465h-1zM1189 447h1V459h-1zM1190 452h1V492h-1zM1192 461h1V484h-1zM1193 452h1V495h-1zM1194 474h1V495h-1zM1196 473h1V485h-1zM1197 468h1V483h-1zM1199 463h1V480h-1zM1200 466h1V480h-1zM1202 467h1V485h-1zM1203 474h1V512h-1zM1205 504h1V518h-1zM1206 512h1V520h-1zM1208 507h1V523h-1zM1209 511h1V528h-1zM1210 512h1V531h-1zM1212 512h1V520h-1zM1213 504h1V521h-1zM1215 508h1V523h-1zM1216 510h1V532h-1zM1218 516h1V527h-1zM1219 505h1V522h-1zM1221 507h1V518h-1zM1222 505h1V518h-1zM1224 511h1V530h-1zM1225 518h1V528h-1zM1226 518h1V533h-1zM1228 520h1V538h-1zM1229 510h1V523h-1zM1231 498h1V516h-1zM1232 510h1V525h-1zM1234 518h1V523h-1zM1235 516h1V533h-1zM1237 528h1V559h-1zM1238 554h1V571h-1zM1240 541h1V570h-1zM1241 539h1V554h-1zM1242 525h1V546h-1zM1244 518h1V536h-1zM1245 520h1V530h-1zM1247 511h1V524h-1zM1248 510h1V523h-1zM1250 504h1V517h-1zM1251 496h1V524h-1zM1253 492h1V502h-1zM1254 488h1V498h-1zM1256 491h1V496h-1zM1257 486h1V500h-1zM1258 486h1V497h-1zM1260 489h1V498h-1zM1261 485h1V501h-1zM1263 478h1V494h-1zM1264 463h1V486h-1zM1266 467h1V476h-1zM1267 465h1V479h-1zM1269 469h1V473h-1zM1270 462h1V478h-1zM1272 475h1V480h-1zM1273 474h1V484h-1zM1274 479h1V495h-1zM1276 476h1V488h-1zM1277 469h1V487h-1zM1279 477h1V487h-1zM1280 480h1V489h-1zM1282 476h1V501h-1zM1283 485h1V497h-1zM1285 492h1V525h-1zM1286 511h1V532h-1zM1288 515h1V535h-1zM1289 520h1V530h-1zM1290 516h1V539h-1zM1292 518h1V544h-1zM1293 532h1V540h-1zM1295 528h1V552h-1zM1296 514h1V536h-1zM1298 523h1V563h-1zM1299 554h1V579h-1zM1301 560h1V569h-1zM1302 553h1V574h-1zM1304 542h1V554h-1zM1305 531h1V552h-1zM1306 503h1V532h-1zM1308 510h1V525h-1zM1309 505h1V531h-1zM1311 516h1V554h-1zM1312 536h1V554h-1zM1314 544h1V555h-1zM1315 554h1V572h-1zM1317 558h1V581h-1zM1318 556h1V567h-1zM1320 550h1V572h-1zM1321 525h1V548h-1zM1322 536h1V548h-1zM1324 534h1V554h-1zM1325 532h1V559h-1zM1327 545h1V563h-1zM1328 554h1V595h-1zM1330 567h1V594h-1zM1331 581h1V606h-1zM1333 597h1V607h-1zM1334 594h1V619h-1zM1336 604h1V633h-1zM1337 608h1V638h-1zM1338 597h1V635h-1zM1340 592h1V608h-1zM1341 592h1V607h-1zM1343 589h1V608h-1zM1344 588h1V608h-1zM1346 590h1V600h-1zM1347 580h1V599h-1zM1349 577h1V592h-1zM1350 579h1V593h-1zM1352 573h1V599h-1zM1353 596h1V623h-1zM1354 604h1V621h-1zM1356 601h1V622h-1zM1357 595h1V628h-1zM1359 589h1V608h-1zM1360 572h1V597h-1zM1362 558h1V577h-1zM1363 528h1V563h-1zM1365 537h1V551h-1zM1366 517h1V580h-1zM1368 554h1V565h-1zM1369 539h1V559h-1zM1370 545h1V579h-1zM1372 571h1V588h-1zM1373 577h1V597h-1zM1375 584h1V600h-1zM1376 590h1V610h-1zM1378 594h1V600h-1zM1379 586h1V600h-1zM1381 577h1V595h-1zM1382 575h1V596h-1zM1384 584h1V595h-1zM1385 597h1V609h-1zM1386 604h1V624h-1zM1388 602h1V620h-1zM1389 583h1V606h-1zM1391 581h1V597h-1zM1392 571h1V586h-1zM1394 575h1V584h-1zM1395 572h1V595h-1zM1397 570h1V588h-1zM1398 574h1V593h-1zM1400 590h1V613h-1zM1401 602h1V615h-1zM1402 601h1V624h-1zM1404 606h1V620h-1zM1405 602h1V625h-1zM1407 604h1V616h-1zM1408 598h1V609h-1zM1410 593h1V606h-1zM1411 581h1V600h-1zM1413 588h1V596h-1zM1414 583h1V613h-1zM1416 602h1V611h-1zM1417 601h1V611h-1zM1418 600h1V611h-1zM1420 595h1V616h-1zM1421 593h1V613h-1zM1423 590h1V606h-1zM1424 604h1V615h-1zM1426 606h1V615h-1zM1427 604h1V623h-1zM1429 604h1V615h-1zM1430 590h1V610h-1zM1432 589h1V602h-1zM1433 589h1V597h-1zM1434 582h1V595h-1zM1436 590h1V600h-1zM1437 588h1V605h-1zM1439 590h1V602h-1zM1440 596h1V608h-1zM1442 598h1V602h-1zM1443 591h1V600h-1zM1445 588h1V600h-1zM1446 587h1V595h-1zM1448 580h1V593h-1zM1449 578h1V588h-1zM1450 565h1V579h-1zM1452 554h1V570h-1zM1453 548h1V565h-1zM1455 555h1V563h-1zM1456 547h1V568h-1zM1458 545h1V558h-1zM1459 522h1V553h-1zM1461 510h1V528h-1zM1462 496h1V528h-1zM1464 498h1V530h-1zM1465 517h1V531h-1zM1466 522h1V530h-1zM1468 523h1V540h-1zM1469 533h1V547h-1zM1471 537h1V551h-1zM1472 547h1V558h-1zM1474 550h1V559h-1zM1475 548h1V572h-1zM1477 554h1V574h-1zM1478 556h1V576h-1zM1480 560h1V577h-1zM1481 547h1V581h-1zM1482 562h1V580h-1zM1484 565h1V584h-1zM1485 569h1V590h-1zM1487 570h1V592h-1zM1488 570h1V590h-1zM1490 568h1V580h-1zM1491 562h1V579h-1zM1493 566h1V592h-1zM1494 577h1V592h-1zM1496 577h1V592h-1zM1497 574h1V586h-1zM1498 566h1V579h-1zM1500 572h1V578h-1zM1501 570h1V590h-1zM1503 586h1V594h-1zM1504 584h1V604h-1zM1506 590h1V609h-1zM1507 592h1V604h-1zM1509 592h1V606h-1zM1510 590h1V613h-1zM1512 608h1V638h-1zM1513 620h1V634h-1zM1514 612h1V633h-1zM1516 616h1V625h-1zM1517 616h1V632h-1zM1519 622h1V638h-1zM1520 615h1V630h-1zM1522 615h1V627h-1zM1523 613h1V623h-1z" fill="#000" shape-rendering="crispEdges"/>
<polygon points="1120,705 1128,633.5 1136,705" fill="#3a96f5"/>
<rect x="946" y="704" width="364" height="44" rx="6" ry="6" fill="#3a96f5"/>
<text id="callout" x="1128" y="733" text-anchor="middle" font-size="23.6" textLength="344" lengthAdjust="spacing" fill="#fff" stroke="#fff" stroke-width="0.3">Major area of interest at $66.00</text>
<text id="title" x="26.2" y="42" font-size="27.2" fill="#000">WTI Crude Oil (USOIL): Daily</text>
<text x="1878" y="30.0" font-size="13.9" fill="#131722">132.00</text>
<text x="1878" y="66.7" font-size="13.9" fill="#131722">128.00</text>
<text x="1878" y="103.5" font-size="13.9" fill="#131722">124.00</text>
<text x="1878" y="140.2" font-size="13.9" fill="#131722">120.00</text>
<text x="1878" y="176.9" font-size="13.9" fill="#131722">116.00</text>
<text x="1878" y="213.7" font-size="13.9" fill="#131722">112.00</text>
<text x="1878" y="250.4" font-size="13.9" fill="#131722">108.00</text>
<text x="1878" y="287.1" font-size="13.9" fill="#131722">104.00</text>
<text x="1878" y="323.9" font-size="13.9" fill="#131722">100.00</text>
<text x="1878" y="360.6" font-size="13.9" fill="#131722">96.00</text>
<text x="1878" y="397.3" font-size="13.9" fill="#131722">92.00</text>
<text x="1878" y="434.1" font-size="13.9" fill="#131722">88.00</text>
<text x="1878" y="470.8" font-size="13.9" fill="#131722">84.00</text>
<text x="1878" y="507.5" font-size="13.9" fill="#131722">80.00</text>
<text x="1878" y="544.2" font-size="13.9" fill="#131722">76.00</text>
<text x="1878" y="581.0" font-size="13.9" fill="#131722">72.00</text>
<text x="1878" y="617.7" font-size="13.9" fill="#131722">68.00</text>
<text x="1878" y="654.4" font-size="13.9" fill="#131722">64.00</text>
<text x="1878" y="691.2" font-size="13.9" fill="#131722">60.00</text>
<text x="1878" y="727.9" font-size="13.9" fill="#131722">56.00</text>
<text x="1878" y="764.6" font-size="13.9" fill="#131722">52.00</text>
<text x="1878" y="801.4" font-size="13.9" fill="#131722">48.00</text>
<text x="1878" y="838.1" font-size="13.9" fill="#131722">44.00</text>
<text x="1878" y="874.8" font-size="13.9" fill="#131722">40.00</text>
<text x="1878" y="911.6" font-size="13.9" fill="#131722">36.00</text>
<text x="1878" y="948.3" font-size="13.9" fill="#131722">32.00</text>
<text x="1878" y="985.0" font-size="13.9" fill="#131722">28.00</text>
<rect x="1822" y="609" width="96" height="21" rx="2" ry="2" fill="#36c21e"/>
<rect x="1868" y="609" width="1" height="21" fill="#d9f3d4" shape-rendering="crispEdges"/>
<text x="1827" y="624.7" font-size="12" fill="#fff" stroke="#fff" stroke-width="0.3">USOIL</text>
<text x="1878" y="624.9" font-size="13.6" fill="#fff" stroke="#fff" stroke-width="0.3">67.33</text>
<text x="107" y="1025" text-anchor="middle" font-size="13" fill="#131722">May</text>
<text x="168" y="1025" text-anchor="middle" font-size="13" fill="#131722">Jul</text>
<text x="230.7" y="1025" text-anchor="middle" font-size="13" fill="#131722">Sep</text>
<text x="291.7" y="1025" text-anchor="middle" font-size="13" fill="#131722">Nov</text>
<text x="354" y="1025" text-anchor="middle" font-weight="700" font-size="13.9" fill="#131722">2022</text>
<text x="473" y="1025" text-anchor="middle" font-size="13" fill="#131722">May</text>
<text x="535" y="1025" text-anchor="middle" font-size="13" fill="#131722">Jul</text>
<text x="597.5" y="1025" text-anchor="middle" font-size="13" fill="#131722">Sep</text>
<text x="658.7" y="1025" text-anchor="middle" font-size="13" fill="#131722">Nov</text>
<text x="719.7" y="1025" text-anchor="middle" font-weight="700" font-size="13.9" fill="#131722">2023</text>
<text x="837" y="1025" text-anchor="middle" font-size="13" fill="#131722">May</text>
<text x="899" y="1025" text-anchor="middle" font-size="13" fill="#131722">Jul</text>
<text x="961.5" y="1025" text-anchor="middle" font-size="13" fill="#131722">Sep</text>
<text x="1082.5" y="1025" text-anchor="middle" font-weight="700" font-size="13.9" fill="#131722">2024</text>
<text x="1143.5" y="1025" text-anchor="middle" font-size="13" fill="#131722">Mar</text>
<text x="1264" y="1025" text-anchor="middle" font-size="13" fill="#131722">Jul</text>
<text x="1327.5" y="1025" text-anchor="middle" font-size="13" fill="#131722">Sep</text>
<text x="1449.7" y="1025" text-anchor="middle" font-weight="700" font-size="13.9" fill="#131722">2025</text>
<text x="1569.7" y="1025" text-anchor="middle" font-size="13" fill="#131722">May</text>
<text x="1631" y="1025" text-anchor="middle" font-size="13" fill="#131722">Jul</text>
<text x="1693" y="1025" text-anchor="middle" font-size="13" fill="#131722">Sep</text>
<text x="1757" y="1025" text-anchor="middle" font-size="13" fill="#131722">Nov</text>
<text x="1818" y="1025" text-anchor="middle" font-weight="700" font-size="13.9" fill="#131722">2026</text>
<g fill="#0d0d0d"><path d="M10.2 1049.3h8v9.6h-4.3v-5.4h-3.7z"/><circle cx="21.4" cy="1051.4" r="2.2"/><path d="M24.9 1049.3h4.9l-4.2 9.6h-4.9z"/></g>
<text x="33" y="1058.9" font-size="12.6" fill="#1a1a1a">TradingView</text>
</svg></body></html>
